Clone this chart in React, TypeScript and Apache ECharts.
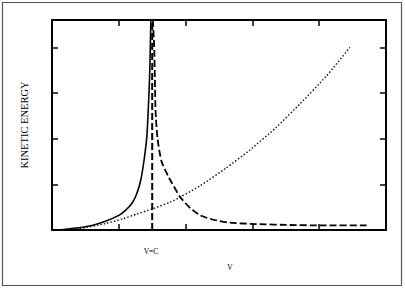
import React, { useEffect, useRef } from "react";
import * as echarts from "echarts";

const xTicks = [0, 1, 2, 3, 4, 5];
const yTicks = [0, 1, 2, 3, 4];
const speedOfLight = 1.5;
const relativistic = [
  [0.1, 0], [0.4, 0.05], [0.6, 0.1], [0.8, 0.19], [1.0, 0.32], [1.1, 0.43],
  [1.2, 0.59], [1.27, 0.8], [1.33, 1.1], [1.38, 1.55], [1.42, 2.05],
  [1.44, 2.6], [1.46, 3.3], [1.47, 3.9], [1.48, 4.6],
];
const classical = [
  [0.1, 0], [0.4, 0.03], [0.8, 0.14], [1.07, 0.25], [1.27, 0.35], [1.5, 0.46],
  [1.77, 0.61], [1.92, 0.72], [2.22, 0.97], [2.6, 1.35], [2.96, 1.75],
  [3.35, 2.24], [3.71, 2.76], [4.1, 3.36], [4.46, 4.0],
];
const dashedCurve = [
  [1.51, 4.6], [1.53, 4.0], [1.54, 3.3], [1.55, 2.6], [1.58, 2.0],
  [1.64, 1.5], [1.75, 1.15], [1.92, 0.72], [2.07, 0.48], [2.22, 0.32],
  [2.4, 0.23], [2.66, 0.16], [3.06, 0.13], [3.56, 0.11], [4.06, 0.1], [4.71, 0.1],
];
const cLine = [[speedOfLight, 0], [speedOfLight, 4.6]];

export default function App() {
  const ref = useRef<HTMLDivElement>(null);
  useEffect(() => {
    document.body.style.margin = "0";
    const chart = echarts.init(ref.current!, null, { renderer: "svg" });
    const axisCommon = {
      type: "value" as const,
      axisLine: { show: true, onZero: false, lineStyle: { color: "#000", width: 2 } },
      axisTick: { show: true, inside: true, length: 6, lineStyle: { color: "#000", width: 1.5 } },
      axisLabel: { show: false },
      splitLine: { show: false },
    };
    chart.setOption({
      animation: false,
      backgroundColor: "#fff",
      grid: { left: 52, top: 20, right: 19, bottom: 59 },
      xAxis: [
        { ...axisCommon, min: xTicks[0], max: xTicks[xTicks.length - 1], interval: 1, position: "bottom" },
        { ...axisCommon, min: xTicks[0], max: xTicks[xTicks.length - 1], interval: 1, position: "top" },
      ],
      yAxis: [
        { ...axisCommon, min: yTicks[0], max: 4.6, interval: 1, position: "left" },
        { ...axisCommon, min: yTicks[0], max: 4.6, interval: 1, position: "right" },
      ],
      series: [
        {
          type: "line", data: relativistic, showSymbol: false, smooth: 0.2,
          lineStyle: { color: "#000", width: 1.6 },
        },
        {
          type: "line", data: classical, showSymbol: false, smooth: 0.2,
          lineStyle: { color: "#111", width: 1.4, type: [1.5, 2] },
        },
        {
          type: "line", data: dashedCurve, showSymbol: false, smooth: 0.2,
          lineStyle: { color: "#000", width: 1.8, type: [7, 3] },
        },
        {
          type: "line", data: cLine, showSymbol: false,
          lineStyle: { color: "#000", width: 2, type: [7, 3] },
        },
      ],
      graphic: [
        {
          type: "rect", shape: { x: 2.5, y: 2.5, width: 399, height: 283 },
          style: { fill: "none", stroke: "#555", lineWidth: 1.2 }, silent: true,
        },
        {
          type: "text", x: 24, y: 125, rotation: Math.PI / 2, originX: 0, originY: 0,
          style: {
            text: "KINETIC ENERGY", fill: "#000", font: "10.5px 'Liberation Serif'",
            align: "center", verticalAlign: "middle",
          },
        },
        {
          type: "text", x: 151, y: 251,
          style: { text: "V=C", fill: "#000", font: "7.5px 'Liberation Serif'", align: "center", verticalAlign: "middle" },
        },
        {
          type: "text", x: 230, y: 267,
          style: { text: "V", fill: "#000", font: "7.5px 'Liberation Serif'", align: "center", verticalAlign: "middle" },
        },
      ],
    });
    return () => chart.dispose();
  }, []);
  return <div ref={ref} style={{ width: 405, height: 289 }} />;
}
